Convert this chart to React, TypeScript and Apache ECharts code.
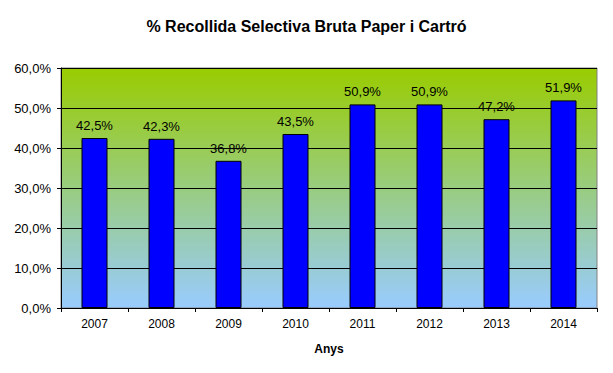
import React, { useEffect, useRef } from "react";
import * as echarts from "echarts";

const categories = ["2007", "2008", "2009", "2010", "2011", "2012", "2013", "2014"];
const values = [42.5, 42.3, 36.8, 43.5, 50.9, 50.9, 47.2, 51.9];
const yTicks = { min: 0, max: 60, interval: 10 };

const fmt = (v: number) => v.toFixed(1).replace(".", ",") + "%";

export default function App() {
  const ref = useRef<HTMLDivElement>(null);
  useEffect(() => {
    if (!ref.current) return;
    const chart = echarts.init(ref.current, null, { renderer: "svg" });
    const font = "'Liberation Sans', Arial, sans-serif";
    chart.setOption({
      animation: false,
      backgroundColor: "#ffffff",
      title: {
        text: "% Recollida Selectiva Bruta Paper i Cartró",
        left: "center",
        top: 13,
        textStyle: { fontFamily: font, fontSize: 16, fontWeight: "bold", color: "#000" },
      },
      grid: {
        left: 61,
        right: 16,
        top: 68,
        bottom: 65,
        show: true,
        borderColor: "#808080",
        borderWidth: 1,
        backgroundColor: new echarts.graphic.LinearGradient(0, 0, 0, 1, [
          { offset: 0, color: "#99CC00" },
          { offset: 1, color: "#99CCFF" },
        ]),
      },
      xAxis: {
        type: "category",
        data: categories,
        name: "Anys",
        nameLocation: "middle",
        nameGap: 35,
        nameTextStyle: { fontFamily: font, fontSize: 12, fontWeight: "bold", color: "#000" },
        axisLine: { lineStyle: { color: "#000", width: 1 } },
        axisTick: { show: true, alignWithLabel: false, length: 4, lineStyle: { color: "#000" } },
        axisLabel: { fontFamily: font, fontSize: 12, color: "#000", margin: 10 },
      },
      yAxis: {
        type: "value",
        min: yTicks.min,
        max: yTicks.max,
        interval: yTicks.interval,
        axisLine: { show: true, lineStyle: { color: "#000", width: 1 } },
        axisTick: { show: true, length: 4, lineStyle: { color: "#000" } },
        axisLabel: { fontFamily: font, fontSize: 13, color: "#000", margin: 10, formatter: (v: number) => fmt(v) },
        splitLine: { show: true, lineStyle: { color: "#000", width: 1 } },
      },
      series: [
        {
          type: "bar",
          data: values,
          barWidth: 26,
          itemStyle: { color: "#0000FF", borderColor: "#000", borderWidth: 1 },
          label: {
            show: true,
            position: "top",
            distance: 6,
            fontFamily: font,
            fontSize: 13,
            color: "#000",
            formatter: (p: any) => fmt(p.value),
          },
        },
      ],
    });
    return () => chart.dispose();
  }, []);
  return <div ref={ref} style={{ position: "fixed", left: 0, top: 0, width: 613, height: 373 }} />;
}
